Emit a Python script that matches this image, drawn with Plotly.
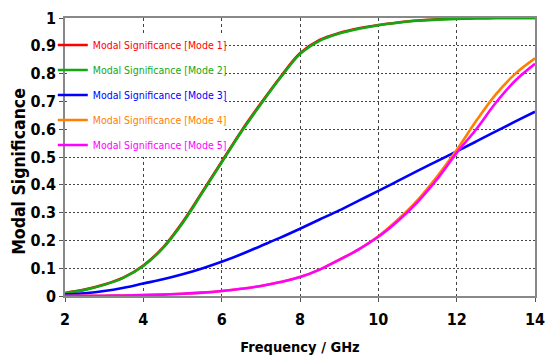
import plotly.graph_objects as go

freq = [2, 2.5, 3, 3.5, 4, 4.5, 5, 5.5, 6, 6.5, 7, 7.5, 8, 8.5, 9, 9.5, 10, 10.5, 11, 11.5, 12, 12.5, 13, 13.5, 14]

mode1 = [0.011, 0.023, 0.041, 0.067, 0.110, 0.174, 0.265, 0.373, 0.483, 0.593, 0.693, 0.788, 0.873, 0.921, 0.946, 0.963, 0.975, 0.984, 0.991, 0.995, 0.998, 0.999, 1.0, 1.0, 1.0]
mode2 = [0.010, 0.022, 0.040, 0.066, 0.108, 0.172, 0.262, 0.370, 0.480, 0.590, 0.690, 0.785, 0.870, 0.918, 0.944, 0.961, 0.974, 0.983, 0.990, 0.994, 0.997, 0.999, 1.0, 1.0, 1.0]
mode3 = [0.005, 0.010, 0.018, 0.030, 0.045, 0.060, 0.078, 0.099, 0.123, 0.150, 0.180, 0.210, 0.242, 0.275, 0.308, 0.343, 0.378, 0.414, 0.450, 0.485, 0.520, 0.556, 0.592, 0.628, 0.663]
mode4 = [0.000, 0.001, 0.001, 0.002, 0.003, 0.005, 0.008, 0.012, 0.018, 0.026, 0.036, 0.050, 0.068, 0.095, 0.130, 0.168, 0.215, 0.275, 0.345, 0.430, 0.525, 0.630, 0.725, 0.800, 0.855]
mode5 = [0.000, 0.001, 0.001, 0.002, 0.003, 0.005, 0.008, 0.012, 0.018, 0.026, 0.036, 0.050, 0.068, 0.095, 0.130, 0.168, 0.213, 0.270, 0.338, 0.420, 0.515, 0.600, 0.695, 0.775, 0.835]

series = [
    ("Modal Significance [Mode 1]", mode1, "#ff0000"),
    ("Modal Significance [Mode 2]", mode2, "#13a813"),
    ("Modal Significance [Mode 3]", mode3, "#0000ff"),
    ("Modal Significance [Mode 4]", mode4, "#ff8000"),
    ("Modal Significance [Mode 5]", mode5, "#ff00ff"),
]

fig = go.Figure()
for i, (name, vals, col) in enumerate(series):
    fig.add_trace(go.Scatter(
        x=freq, y=vals, mode="lines", line=dict(color=col, width=2.6, shape="spline", smoothing=1.0),
        name=f"<span style='color:{col}'>{name}</span>", legendgroup=f"g{i}",
    ))

font_main = "DejaVu Sans Condensed"
fig.update_layout(
    width=554, height=363,
    margin=dict(l=65, r=9, t=18, b=67),
    paper_bgcolor="white", plot_bgcolor="white",
    showlegend=True,
    legend=dict(x=-0.026, y=0.955, xanchor="left", yanchor="top",
                bgcolor="rgba(255,255,255,0)", font=dict(family=font_main, size=10.5),
                tracegroupgap=6, itemwidth=30),
    shapes=[dict(type="rect", xref="paper", yref="paper", x0=0.004, x1=0.336, y0=0.5, y1=0.94,
                 fillcolor="white", line=dict(width=0), layer="above")],
    xaxis=dict(range=[2, 14], tickvals=[2, 4, 6, 8, 10, 12, 14],
               showgrid=True, gridcolor="#444", griddash="3px,3px", gridwidth=1,
               showline=True, linecolor="#888", linewidth=1.5, mirror=True,
               ticks="outside", ticklen=4, tickcolor="#555", ticklabelstandoff=4,
               tickfont=dict(family=font_main, size=16, color="black", weight="bold"),
               title=dict(text="Frequency / GHz", standoff=14,
                          font=dict(family=font_main, size=14.5, color="black", weight="bold")),
               zeroline=False),
    yaxis=dict(range=[0, 1], tickvals=[0, 0.1, 0.2, 0.3, 0.4, 0.5, 0.6, 0.7, 0.8, 0.9, 1],
               ticktext=["0", "0.1", "0.2", "0.3", "0.4", "0.5", "0.6", "0.7", "0.8", "0.9", "1"],
               showgrid=True, gridcolor="#444", griddash="2px,2px", gridwidth=1,
               showline=True, linecolor="#888", linewidth=1.5, mirror=True,
               ticks="outside", ticklen=4, tickcolor="#555",
               tickfont=dict(family=font_main, size=16, color="black", weight="bold"),
               zeroline=False),
    annotations=[dict(text="<b>Modal Significance</b>", textangle=-90,
                      xref="paper", yref="paper", x=-0.098, y=0.45,
                      xanchor="center", yanchor="middle", showarrow=False,
                      font=dict(family=font_main, size=17.5, color="black"))],
)

fig.write_html("out.html")
